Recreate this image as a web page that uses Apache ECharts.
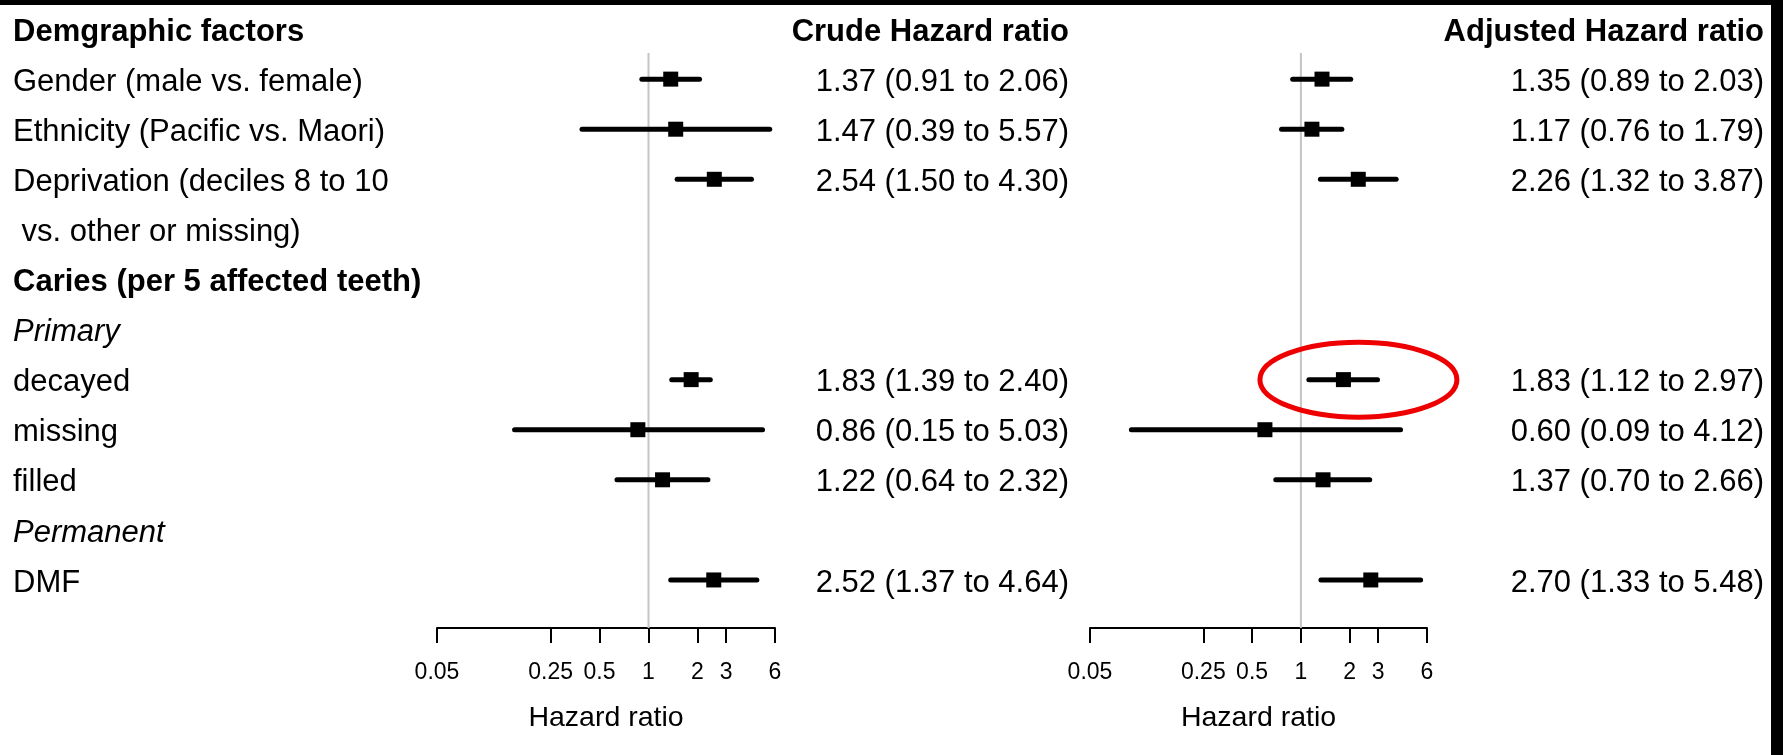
<!DOCTYPE html>
<html><head><meta charset="utf-8">
<script src="https://cdn.jsdelivr.net/npm/echarts@6/dist/echarts.min.js"></script>
<style>html,body{margin:0;padding:0;background:#fff}#c{width:1783px;height:755px}</style>
</head><body><div id="c"></div>
<script>
// ---------- data ----------
const rowLabels = [
  'Demgraphic factors',
  'Gender (male vs. female)',
  'Ethnicity (Pacific vs. Maori)',
  'Deprivation (deciles 8 to 10',
  ' vs. other or missing)',
  'Caries (per 5 affected teeth)',
  'Primary',
  'decayed',
  'missing',
  'filled',
  'Permanent',
  'DMF'
];
const rowStyles = ['b','n','n','n','n','b','i','n','n','n','i','n'];
const crudeHR = [null,1.37,1.47,2.54,null,null,null,1.83,0.86,1.22,null,2.52];
const crudeLo = [null,0.91,0.39,1.50,null,null,null,1.39,0.15,0.64,null,1.37];
const crudeHi = [null,2.06,5.57,4.30,null,null,null,2.40,5.03,2.32,null,4.64];
const adjHR   = [null,1.35,1.17,2.26,null,null,null,1.83,0.60,1.37,null,2.70];
const adjLo   = [null,0.89,0.76,1.32,null,null,null,1.12,0.09,0.70,null,1.33];
const adjHi   = [null,2.03,1.79,3.87,null,null,null,2.97,4.12,2.66,null,5.48];
const xTicks = [0.05, 0.25, 0.5, 1, 2, 3, 6];
const crudeHeader = 'Crude Hazard ratio';
const adjHeader = 'Adjusted Hazard ratio';
const axisTitle = 'Hazard ratio';
const refValue = 1;
const highlightRow = 7;

// ---------- helpers ----------
const FONT = '"Liberation Sans", Arial, sans-serif';
const FS = 31;
const fmt = v => v.toFixed(2);
function valueTexts(hr, lo, hi, header) {
  return rowLabels.map((_, i) => i === 0 ? header :
    (hr[i] == null ? '' : fmt(hr[i]) + ' (' + fmt(lo[i]) + ' to ' + fmt(hi[i]) + ')'));
}
const crudeText = valueTexts(crudeHR, crudeLo, crudeHi, crudeHeader);
const adjText = valueTexts(adjHR, adjLo, adjHi, adjHeader);
function ciData(hr, lo, hi) {
  const out = [];
  hr.forEach((v, i) => { if (v != null) out.push([lo[i], hi[i], v, i]); });
  return out;
}
const X_OFFSET = 23;
const rich = {
  b: {fontWeight: 'bold', fontSize: FS, fontFamily: FONT, color: '#000'},
  i: {fontStyle: 'italic', fontSize: FS, fontFamily: FONT, color: '#000'},
  n: {fontSize: FS, fontFamily: FONT, color: '#000'}
};
function styled(text, i) { return text === '' ? '' : '{' + rowStyles[i] + '|' + text + '}'; }

function xAxisFor(g) {
  return {
    type: 'log', gridIndex: g, min: 0.05, max: 6, offset: X_OFFSET,
    axisLine: {show: true, lineStyle: {color: '#000', width: 2}},
    axisTick: {show: true, length: 15, customValues: xTicks, lineStyle: {color: '#000', width: 2}},
    axisLabel: {customValues: xTicks, fontSize: 23, margin: 33, color: '#000', fontFamily: FONT,
      formatter: v => String(parseFloat(Number(v).toPrecision(3)))},
    splitLine: {show: false}, minorTick: {show: false}, minorSplitLine: {show: false},
    name: axisTitle, nameLocation: 'middle', nameGap: 76,
    nameTextStyle: {fontSize: 28.5, color: '#000', fontFamily: FONT}
  };
}
function yAxisFor(g, pos, formatter, align, margin) {
  return {
    type: 'category', gridIndex: g, position: pos, inverse: true, data: rowLabels,
    axisLine: {show: false}, axisTick: {show: false}, splitLine: {show: false},
    axisLabel: {show: true, interval: 0, align: align, margin: margin, fontSize: FS,
      padding: [6, 0, 0, 0],
      color: '#000', fontFamily: FONT, rich: rich, formatter: formatter}
  };
}
function ciRender(params, api) {
  const lo = api.value(0), hi = api.value(1), hr = api.value(2), row = api.value(3);
  const p1 = api.coord([lo, row]), p2 = api.coord([hi, row]), pc = api.coord([hr, row]);
  const s = 15;
  return {type: 'group', children: [
    {type: 'line', shape: {x1: p1[0], y1: p1[1], x2: p2[0], y2: p2[1]},
      style: {stroke: '#000', lineWidth: 5, lineCap: 'round'}},
    {type: 'rect', shape: {x: pc[0] - s / 2, y: pc[1] - s / 2, width: s, height: s},
      style: {fill: '#000'}}
  ]};
}
function refRender(params, api) {
  const x = api.value(0);
  const p1 = api.coord([x, 1]);
  const band = api.coord([x, 2])[1] - p1[1];
  const cs = params.coordSys;
  return {type: 'line', shape: {x1: p1[0], y1: p1[1] - band / 2 - 1, x2: p1[0], y2: cs.y + cs.height + X_OFFSET},
    style: {stroke: '#c4c4c4', lineWidth: 2}};
}
function ellipseRender(params, api) {
  const p = api.coord([api.value(0), api.value(1)]);
  return {type: 'ellipse', shape: {cx: p[0] + 15, cy: p[1], rx: 98.5, ry: 37.5},
    style: {stroke: '#ee0000', lineWidth: 5, fill: 'none'}};
}

const chart = echarts.init(document.getElementById('c'), null, {renderer: 'canvas'});
chart.setOption({
  backgroundColor: '#fff',
  animation: false,
  grid: [
    {left: 437, top: 4, width: 338, height: 601, outerBoundsMode: 'none'},
    {left: 1090, top: 4, width: 337, height: 601, outerBoundsMode: 'none'}
  ],
  xAxis: [xAxisFor(0), xAxisFor(1)],
  yAxis: [
    yAxisFor(0, 'left', (v, i) => styled(rowLabels[i], i), 'left', 424),
    yAxisFor(0, 'right', (v, i) => styled(crudeText[i], i), 'right', 294),
    yAxisFor(1, 'right', (v, i) => styled(adjText[i], i), 'right', 337)
  ],
  series: [
    {type: 'custom', xAxisIndex: 0, yAxisIndex: 0, data: [[refValue, 1]], encode: {x: 0, y: 1},
      renderItem: refRender, clip: false, silent: true},
    {type: 'custom', xAxisIndex: 1, yAxisIndex: 2, data: [[refValue, 1]], encode: {x: 0, y: 1},
      renderItem: refRender, clip: false, silent: true},
    {type: 'custom', xAxisIndex: 0, yAxisIndex: 0, data: ciData(crudeHR, crudeLo, crudeHi),
      encode: {x: [0, 1, 2], y: 3}, renderItem: ciRender, silent: true},
    {type: 'custom', xAxisIndex: 1, yAxisIndex: 2, data: ciData(adjHR, adjLo, adjHi),
      encode: {x: [0, 1, 2], y: 3}, renderItem: ciRender, silent: true},
    {type: 'custom', xAxisIndex: 1, yAxisIndex: 2, data: [[adjHR[highlightRow], highlightRow]],
      encode: {x: 0, y: 1}, renderItem: ellipseRender, clip: false, silent: true}
  ],
  graphic: [
    {type: 'rect', left: 0, top: 0, shape: {width: 1783, height: 5}, style: {fill: '#000'}},
    {type: 'rect', right: 0, top: 0, shape: {width: 12, height: 755}, style: {fill: '#000'}}
  ]
});
</script></body></html>
